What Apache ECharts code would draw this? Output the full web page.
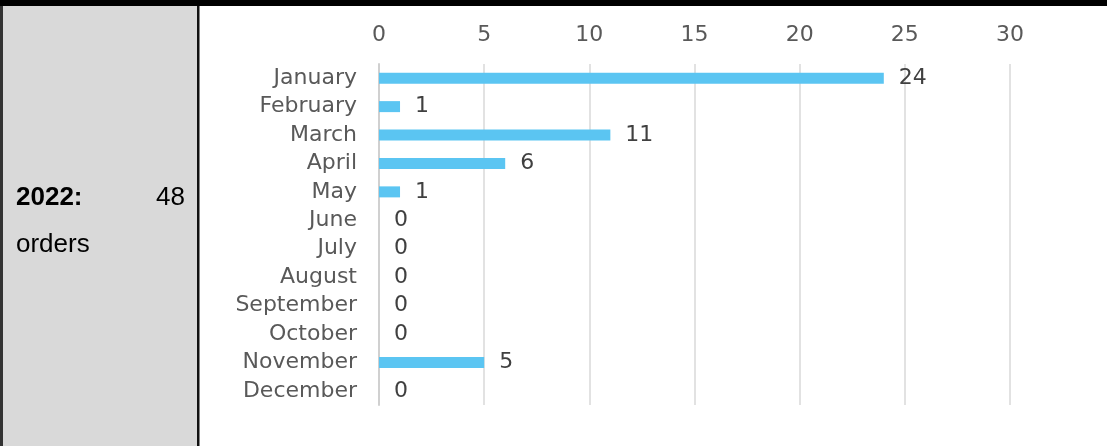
<!DOCTYPE html>
<html>
<head>
<meta charset="utf-8">
<script src="https://cdn.jsdelivr.net/npm/echarts@6/dist/echarts.min.js"></script>
<style>
  html, body { margin: 0; padding: 0; background: #fff; }
  #chart { width: 1107px; height: 446px; }
</style>
</head>
<body>
<div id="chart"></div>
<script>
const months = ['January', 'February', 'March', 'April', 'May', 'June',
  'July', 'August', 'September', 'October', 'November', 'December'];
const orders = [24, 1, 11, 6, 1, 0, 0, 0, 0, 0, 5, 0];
const yearLabel = '2022:';
const totalLabel = '48';
const unitLabel = 'orders';

const chart = echarts.init(document.getElementById('chart'));

const option = {
  animation: false,
  backgroundColor: '#fff',
  grid: { left: 379, right: 97, top: 64, bottom: 41 },
  xAxis: {
    type: 'value',
    position: 'top',
    min: 0,
    max: 30,
    interval: 5,
    axisLine: { show: false },
    axisTick: { show: false },
    axisLabel: {
      fontFamily: 'DejaVu Sans',
      fontSize: 22,
      color: '#595959',
      margin: 18
    },
    splitLine: { lineStyle: { color: '#d9d9d9', width: 1.5 } }
  },
  yAxis: {
    type: 'category',
    inverse: true,
    data: months,
    axisLine: { show: true, lineStyle: { color: '#d0d0d0', width: 2 } },
    axisTick: { show: false },
    axisLabel: {
      interval: 0,
      fontFamily: 'DejaVu Sans',
      fontSize: 22,
      color: '#595959',
      margin: 22
    }
  },
  series: [{
    type: 'bar',
    data: orders,
    barWidth: 11,
    itemStyle: { color: '#5bc5f2' },
    label: {
      show: true,
      position: 'right',
      distance: 15,
      fontFamily: 'DejaVu Sans',
      fontSize: 22,
      color: '#404040'
    }
  }],
  graphic: [
    // top rule
    { type: 'rect', shape: { x: 0, y: 0, width: 1107, height: 6 }, style: { fill: '#000' } },
    // grey cell with borders
    { type: 'rect', shape: { x: 0, y: 6, width: 3, height: 440 }, style: { fill: '#333' } },
    { type: 'rect', shape: { x: 3, y: 6, width: 194, height: 440 }, style: { fill: '#d9d9d9' } },
    { type: 'rect', shape: { x: 197, y: 6, width: 2.5, height: 440 }, style: { fill: '#111' } },
    {
      type: 'text', left: 16, top: 185,
      style: { text: yearLabel, font: 'bold 26px "Liberation Sans", Arial, sans-serif', fill: '#000' }
    },
    {
      type: 'text', right: 1107 - 185, top: 185,
      style: { text: totalLabel, font: '26px "Liberation Sans", Arial, sans-serif', fill: '#000', align: 'right' }
    },
    {
      type: 'text', left: 16, top: 232,
      style: { text: unitLabel, font: '26px "Liberation Sans", Arial, sans-serif', fill: '#000' }
    }
  ]
};

chart.setOption(option);
</script>
</body>
</html>
